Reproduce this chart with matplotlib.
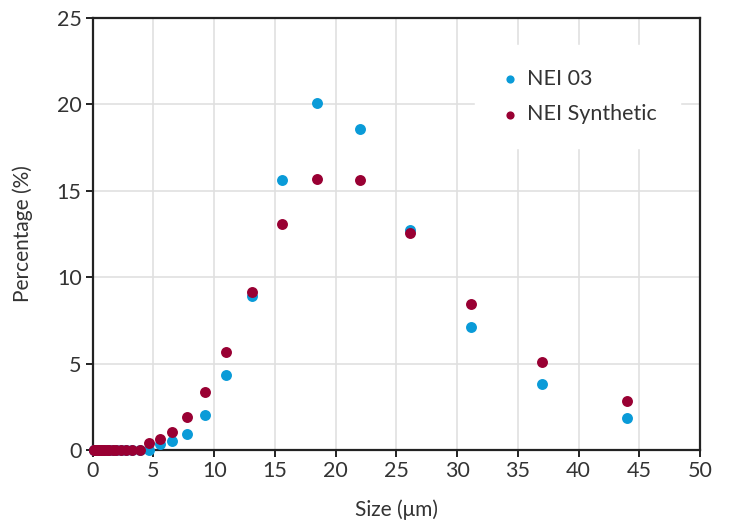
import matplotlib
matplotlib.use('Agg')
import matplotlib.pyplot as plt

# 粒径分布数据（粒径 μm，百分比 %）
size_small = [0.12, 0.14, 0.17, 0.20, 0.24, 0.29, 0.34, 0.41, 0.49, 0.58, 0.69,
              0.82, 0.97, 1.16, 1.37, 1.64, 1.94, 2.31, 2.75, 3.27, 3.89]
size_main = [4.62, 5.5, 6.54, 7.78, 9.25, 11.0, 13.08, 15.56, 18.5, 22.0,
             26.16, 31.11, 37.0, 44.0]

nei03_main = [0.0, 0.35, 0.5, 0.95, 2.0, 4.35, 8.9, 15.65, 20.1, 18.6,
              12.75, 7.1, 3.8, 1.85]
synth_main = [0.4, 0.65, 1.05, 1.9, 3.35, 5.7, 9.15, 13.05, 15.7, 15.6,
              12.55, 8.45, 5.1, 2.85]

sizes = size_small + size_main
nei03 = [0.0] * len(size_small) + nei03_main
synth = [0.0] * len(size_small) + synth_main

plt.rcParams['font.family'] = ['Lato', 'DejaVu Sans']

fig = plt.figure(figsize=(7.3, 5.27), dpi=100)
ax = fig.add_axes([0.127, 0.146, 0.832, 0.820])

ax.scatter(sizes, nei03, s=62, color='#0a9bd8', label='NEI 03', zorder=3,
           linewidths=0, clip_on=False)
ax.scatter(sizes, synth, s=62, color='#990033', label='NEI Synthetic', zorder=4,
           linewidths=0, clip_on=False)

ax.set_xlim(0, 50)
ax.set_ylim(0, 25)
ax.set_xticks(range(0, 51, 5))
ax.set_yticks(range(0, 26, 5))
ax.grid(True, color='#e0e0e0', linewidth=1.2, zorder=0)
ax.set_axisbelow(True)

for sp in ax.spines.values():
    sp.set_color('#222222')
    sp.set_linewidth(1.6)

ax.tick_params(axis='both', direction='out', length=5, width=1.4,
               color='#222222', labelsize=15.5, labelcolor='#333333', pad=3)

ax.set_xlabel('Size (μm)', fontsize=15, color='#333333', labelpad=13)
ax.set_ylabel('Percentage (%)', fontsize=15, color='#333333', labelpad=17)

leg = ax.legend(loc='upper right', bbox_to_anchor=(0.985, 0.962), frameon=True,
                fontsize=15.5, handlelength=1.0, handletextpad=0.3,
                markerscale=0.75, borderpad=1.1, labelspacing=0.72, fancybox=False)
leg.get_frame().set_edgecolor('white')
leg.get_frame().set_facecolor('white')
leg.get_frame().set_alpha(1.0)
for t in leg.get_texts():
    t.set_color('#333333')

plt.savefig('out.png', dpi=100)
